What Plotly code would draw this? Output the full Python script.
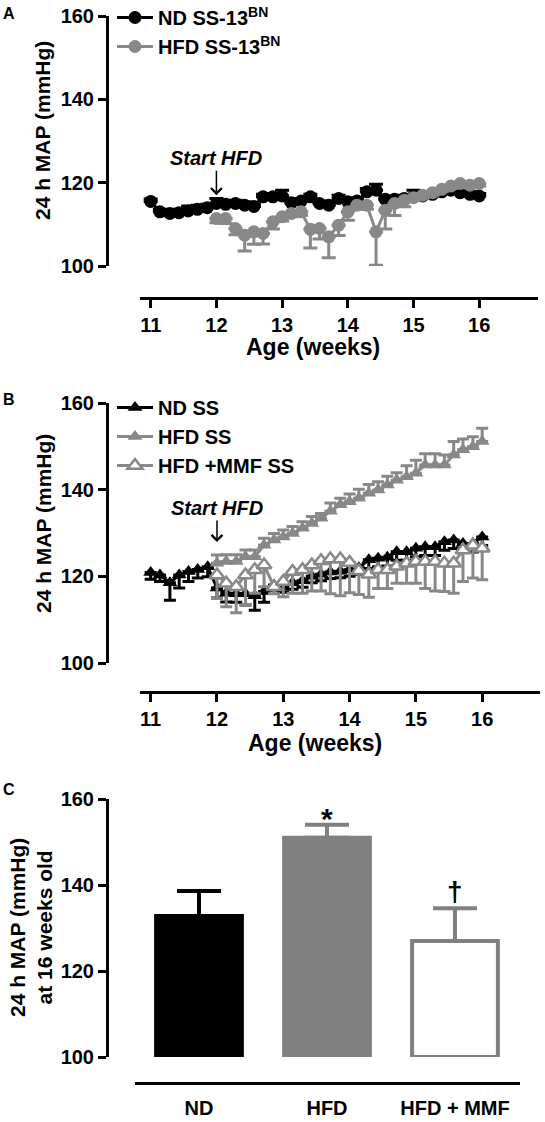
import plotly.graph_objects as go

W, H = 545, 1122

# ---------------- data ----------------
age_weeks = [11.00, 11.14, 11.29, 11.43, 11.57, 11.71, 11.86, 12.00, 12.14, 12.29, 12.43, 12.57,
             12.71, 12.86, 13.00, 13.14, 13.29, 13.43, 13.57, 13.71, 13.86, 14.00, 14.14, 14.29,
             14.43, 14.57, 14.71, 14.86, 15.00, 15.14, 15.29, 15.43, 15.57, 15.71, 15.86, 16.00]
hfd_age_weeks = age_weeks[7:]

# Panel A
nd_ss13 = [115.5, 113.0, 112.6, 112.8, 113.2, 113.6, 114.0, 115.0, 114.8, 115.0, 114.6, 114.3,
           116.6, 116.6, 116.8, 115.2, 115.6, 116.6, 115.0, 114.6, 116.2, 115.4, 115.6, 117.8,
           118.2, 116.0, 116.0, 116.2, 116.6, 116.8, 117.2, 117.8, 118.2, 117.6, 117.2, 116.8]
nd_ss13_err = [0.6, 0.6, 0.6, 0.8, 1.2, 1.0, 0.8, 1.2, 0.8, 0.8, 0.8, 0.6,
               0.6, 0.8, 1.4, 0.6, 0.6, 0.6, 0.6, 0.6, 0.8, 0.6, 0.8, 0.8,
               1.4, 0.8, 0.6, 0.8, 1.6, 0.8, 0.6, 0.6, 0.6, 0.6, 0.6, 0.6]
hfd_ss13 = [111.4, 111.4, 109.0, 107.4, 108.2, 107.8, 110.6, 111.8, 112.6, 113.0, 108.8, 109.0,
            107.0, 109.8, 113.0, 114.6, 114.6, 108.2, 113.4, 115.0, 115.8, 116.4, 117.0, 117.6,
            118.4, 119.2, 119.8, 119.4, 119.8]
hfd_ss13_err = [1.0, 1.2, 1.5, 3.8, 3.0, 2.5, 1.7, 1.0, 0.8, 0.8, 4.5, 2.5,
                5.0, 2.5, 2.0, 1.0, 1.0, 8.0, 4.5, 2.9, 1.6, 0.6, 0.6, 0.6,
                0.6, 0.6, 0.6, 0.6, 0.6]

# Panel B
nd_ss = [120.9, 120.3, 118.5, 120.3, 121.1, 121.6, 122.2, 117.3, 116.1, 116.0, 116.0, 115.5,
         116.5, 118.0, 117.5, 118.5, 119.0, 120.0, 120.5, 121.0, 121.2, 121.5, 122.0, 123.8,
         124.2, 124.4, 125.7, 125.7, 126.5, 126.8, 126.8, 128.0, 128.4, 127.6, 127.6, 129.1]
nd_ss_err = [1.6, 1.5, 4.0, 3.0, 2.3, 2.0, 2.3, 2.3, 2.0, 2.0, 2.6, 3.3,
             2.5, 1.2, 1.2, 1.5, 1.5, 1.5, 1.5, 1.5, 1.5, 1.5, 1.5, 2.0,
             2.0, 2.0, 2.0, 2.0, 2.0, 2.0, 2.0, 2.0, 2.0, 2.0, 2.0, 2.0]
hfd_ss = [123.0, 123.4, 123.4, 124.5, 124.5, 127.2, 128.4, 129.1, 129.9, 131.1, 132.2, 133.4,
          135.0, 136.5, 137.2, 138.0, 139.2, 139.9, 141.1, 142.2, 143.0, 143.8, 145.7, 145.7,
          145.7, 148.0, 149.2, 149.9, 151.1]
hfd_ss_err = [1.9, 1.6, 1.6, 1.6, 1.6, 1.6, 1.5, 1.6, 1.6, 1.5, 1.6, 1.1,
              1.9, 1.5, 1.8, 2.1, 2.0, 1.9, 2.0, 1.7, 2.5, 3.0, 2.6, 2.6,
              2.3, 3.1, 2.5, 2.3, 3.1]
hfd_mmf_ss = [120.3, 118.4, 117.6, 120.3, 121.5, 122.6, 117.6, 118.8, 121.1, 121.5, 122.6, 123.6,
              124.0, 124.0, 123.2, 121.3, 120.5, 121.5, 121.5, 122.3, 123.0, 123.4, 123.4, 123.4,
              123.0, 123.0, 126.1, 127.2, 126.5]
hfd_mmf_ss_err = [5.4, 5.4, 6.0, 6.9, 5.4, 5.0, 1.6, 3.5, 5.0, 5.4, 6.0, 7.0,
                  8.0, 8.5, 7.0, 5.5, 5.3, 4.3, 4.3, 3.9, 4.6, 5.0, 6.2, 6.8,
                  6.5, 6.9, 7.3, 7.6, 7.3]

# Panel C
groups = ["ND", "HFD", "HFD + MMF"]
map16 = [132.8, 151.0, 127.0]
map16_sem = [5.8, 3.0, 7.6]
sig_marks = ["", "*", "†"]
bar_base = 100

x_ticks = [11, 12, 13, 14, 15, 16]
y_ticks = [100, 120, 140, 160]

# ---------------- styles ----------------
BLACK = "#000000"
GRAY = "#888888"
BARGRAY = "#808080"
FONT = "Liberation Sans, Arial, sans-serif"


def px_x(p):
    return p / W


def px_y(p):
    return 1 - p / H


def bold(size, **kw):
    d = dict(family=FONT, size=size, color=BLACK, weight="bold")
    d.update(kw)
    return d


def up_err(vals, color, thick=3, width=7):
    return dict(type="data", symmetric=False, array=vals, arrayminus=[0] * len(vals),
                color=color, thickness=thick, width=width)


def down_err(vals, color, thick=3, width=7):
    return dict(type="data", symmetric=False, array=[0] * len(vals), arrayminus=vals,
                color=color, thickness=thick, width=width)


fig = go.Figure()

# Panel A traces
fig.add_trace(go.Scatter(x=age_weeks, y=nd_ss13, mode="lines+markers", name="ND SS-13<sup>BN</sup>",
                         line=dict(color=BLACK, width=3), marker=dict(symbol="circle", size=13, color=BLACK),
                         error_y=up_err(nd_ss13_err, BLACK), xaxis="x", yaxis="y",
                         legend="legend", legendgroup="a1"))
fig.add_trace(go.Scatter(x=hfd_age_weeks, y=hfd_ss13, mode="lines+markers", name="HFD SS-13<sup>BN</sup>",
                         line=dict(color=GRAY, width=3), marker=dict(symbol="circle", size=13, color=GRAY),
                         error_y=down_err(hfd_ss13_err, GRAY), xaxis="x", yaxis="y",
                         legend="legend", legendgroup="a2"))

# Panel B traces
fig.add_trace(go.Scatter(x=age_weeks, y=nd_ss, mode="lines+markers", name="ND SS",
                         line=dict(color=BLACK, width=3), marker=dict(symbol="triangle-up", size=13, color=BLACK),
                         error_y=down_err(nd_ss_err, BLACK, width=6), xaxis="x2", yaxis="y2",
                         legend="legend2", legendgroup="b1"))
fig.add_trace(go.Scatter(x=hfd_age_weeks, y=hfd_ss, mode="lines+markers", name="HFD SS",
                         line=dict(color=GRAY, width=3), marker=dict(symbol="triangle-up", size=13, color=GRAY),
                         error_y=up_err(hfd_ss_err, GRAY, width=6), xaxis="x2", yaxis="y2",
                         legend="legend2", legendgroup="b2"))
fig.add_trace(go.Scatter(x=hfd_age_weeks, y=hfd_mmf_ss, mode="lines+markers", name="HFD +MMF SS",
                         line=dict(color=GRAY, width=3),
                         marker=dict(symbol="triangle-up", size=13, color="white", line=dict(color=GRAY, width=2.5)),
                         error_y=down_err(hfd_mmf_ss_err, GRAY, width=6), xaxis="x2", yaxis="y2",
                         legend="legend2", legendgroup="b3"))

# Panel C bars
bar_fill = [BLACK, BARGRAY, "white"]
bar_line = [BLACK, BARGRAY, BARGRAY]
for g, m, s, fc, lc in zip(groups, map16, map16_sem, bar_fill, bar_line):
    fig.add_trace(go.Bar(x=[g], y=[m - bar_base], base=bar_base, width=0.67,
                         marker=dict(color=fc, line=dict(color=lc, width=4)),
                         error_y=dict(type="data", symmetric=False, array=[s], arrayminus=[0],
                                      color=lc, thickness=4, width=22),
                         xaxis="x3", yaxis="y3", showlegend=False))

tickfont = bold(20)
common_x = dict(showline=True, linewidth=3, linecolor=BLACK, ticks="outside", ticklen=8, tickwidth=3,
                tickcolor=BLACK, showgrid=False, zeroline=False, tickfont=tickfont, anchor="free",
                automargin=False)
common_y = dict(showline=True, linewidth=3, linecolor=BLACK, ticks="outside", ticklen=8, tickwidth=3,
                tickcolor=BLACK, showgrid=False, zeroline=False, tickfont=tickfont, anchor="free",
                range=[100, 160], tickvals=y_ticks, position=px_x(107), automargin=False)

legend_common = dict(xanchor="left", yanchor="top", bgcolor="rgba(0,0,0,0)", font=bold(20),
                     itemwidth=36, traceorder="normal")

fig.update_layout(
    template="none",
    width=W, height=H, margin=dict(l=0, r=0, t=0, b=0, autoexpand=False),
    paper_bgcolor="white", plot_bgcolor="rgba(0,0,0,0)",
    font=bold(20),
    xaxis=dict(common_x, domain=[px_x(140), px_x(538)], range=[10.837, 16.895], tickvals=x_ticks,
               position=px_y(298)),
    yaxis=dict(common_y, domain=[px_y(266), px_y(16)]),
    xaxis2=dict(common_x, domain=[px_x(140), px_x(540)], range=[10.839, 16.872], tickvals=x_ticks,
                position=px_y(692)),
    yaxis2=dict(common_y, domain=[px_y(663), px_y(403)]),
    xaxis3=dict(common_x, domain=[px_x(135), px_x(520)], range=[-0.5, 2.508], type="category",
                tickcolor="rgba(0,0,0,0)", ticklen=6, position=px_y(1083)),
    yaxis3=dict(common_y, domain=[px_y(1057), px_y(799)]),
    legend=dict(legend_common, x=px_x(112), y=px_y(-2), tracegroupgap=8),
    legend2=dict(legend_common, x=px_x(112), y=px_y(388), tracegroupgap=6),
    bargap=0.3,
)

ann = []
# panel letters
for letter, ypx in [("A", 14), ("B", 400), ("C", 789)]:
    ann.append(dict(text=letter, x=px_x(9), y=px_y(ypx), xref="paper", yref="paper", showarrow=False,
                    xanchor="center", yanchor="middle", font=bold(16)))
# y titles
ann.append(dict(text="24 h MAP (mmHg)", x=px_x(43), y=px_y(131), xref="paper", yref="paper",
                xanchor="center", yanchor="middle", showarrow=False, textangle=-90, font=bold(21)))
ann.append(dict(text="24 h MAP (mmHg)", x=px_x(43), y=px_y(524), xref="paper", yref="paper",
                xanchor="center", yanchor="middle", showarrow=False, textangle=-90, font=bold(21)))
ann.append(dict(text="24 h MAP (mmHg)<br>at 16 weeks old", x=px_x(31), y=px_y(928), xref="paper",
                yref="paper", xanchor="center", yanchor="middle", showarrow=False, textangle=-90,
                font=bold(21)))
# x titles
ann.append(dict(text="Age (weeks)", x=px_x(313), y=px_y(347), xref="paper", yref="paper",
                xanchor="center", yanchor="middle", showarrow=False, font=bold(23)))
ann.append(dict(text="Age (weeks)", x=px_x(315), y=px_y(743), xref="paper", yref="paper",
                xanchor="center", yanchor="middle", showarrow=False, font=bold(23)))
# Start HFD arrows
ann.append(dict(text="Start HFD", x=12, y=117.0, xref="x", yref="y", ax=0, ay=-37, showarrow=True,
                arrowhead=4, arrowsize=1.4, arrowwidth=1.5, arrowcolor=BLACK,
                font=bold(20, style="italic")))
ann.append(dict(text="Start HFD", x=12, y=127.9, xref="x2", yref="y2", ax=0, ay=-34, showarrow=True,
                arrowhead=4, arrowsize=1.4, arrowwidth=1.5, arrowcolor=BLACK,
                font=bold(20, style="italic")))
# significance marks
for g, m, s, mark in zip(groups, map16, map16_sem, sig_marks):
    if mark:
        ann.append(dict(text=mark, x=g, y=m + s, xref="x3", yref="y3", showarrow=False,
                        xanchor="center", yanchor="bottom", yshift=-12 if mark == "*" else -1,
                        font=bold(30 if mark == "*" else 28)))
fig.update_layout(annotations=ann)

fig.write_html("out.html", config={"displayModeBar": False},
               post_script="document.body.style.margin='0px';document.body.style.padding='0px';")
